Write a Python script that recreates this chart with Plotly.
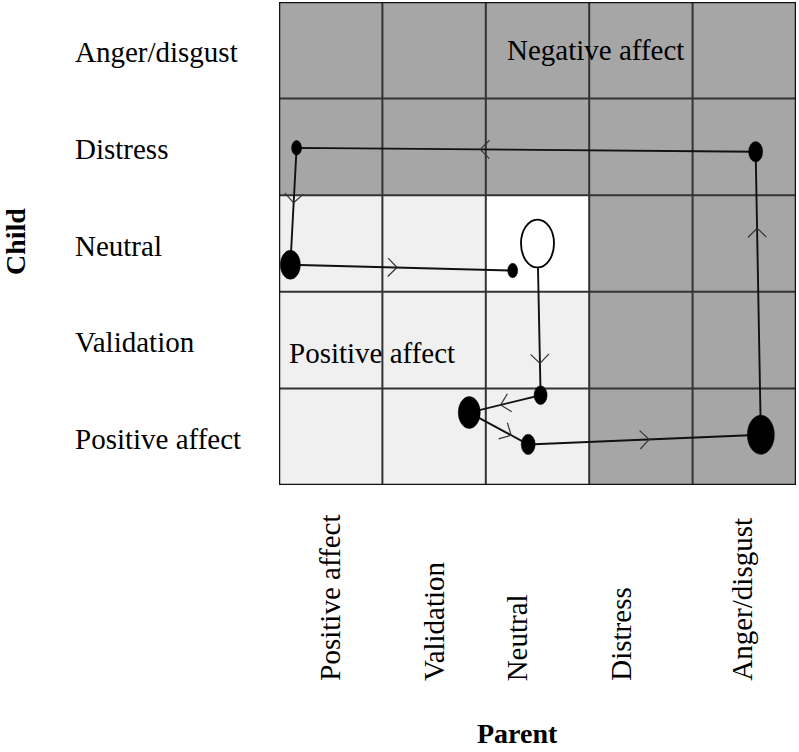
import numpy as np
import plotly.graph_objects as go

# ---- data ----
parent_states = ["Positive affect", "Validation", "Neutral", "Distress", "Anger/disgust"]
child_states = ["Positive affect", "Validation", "Neutral", "Distress", "Anger/disgust"]  # bottom -> top
valence = ["positive", "positive", "neutral", "negative", "negative"]

# trajectory in grid units (x = parent state, y = child state)
traj_parent = [2.50, 2.53, 1.84, 2.41, 4.66, 4.61, 0.17, 0.11, 2.26]
traj_child = [2.50, 0.93, 0.75, 0.42, 0.52, 3.45, 3.49, 2.28, 2.22]
traj_duration = [33, 13, 22, 14, 27, 14, 10, 20, 10]
arrow_frac = [0.79, 0.56, 0.71, 0.52, 0.73, 0.60, 0.47, 0.48]

region_labels = ["Negative affect", "Positive affect"]
region_x = [3.06, 0.90]
region_y = [4.50, 1.37]

# ---- layout constants ----
W, H = 799, 752
ML, MR, MT, MB = 279, 3, 2, 267
PW, PH = W - ML - MR, H - MT - MB
SX, SY = PW / 5.0, PH / 5.0
FONT = "Liberation Serif"
DARK, LIGHT, WHITE = "#a6a6a6", "#f0f0f0", "#ffffff"


def to_px(x, y):
    return ML + x * SX, MT + PH - y * SY


def to_data(px, py):
    return (px - ML) / SX, (MT + PH - py) / SY


shapes = []
# cells
for i, pv in enumerate(valence):
    for j, cv in enumerate(valence):
        if pv == "negative" or cv == "negative":
            col = DARK
        elif pv == "neutral" and cv == "neutral":
            col = WHITE
        else:
            col = LIGHT
        shapes.append(dict(type="rect", xref="x", yref="y", x0=i, x1=i + 1, y0=j, y1=j + 1,
                           fillcolor=col, line=dict(width=0), layer="below"))
# grid lines
for k in range(1, 5):
    shapes.append(dict(type="line", xref="x", yref="y", x0=k, x1=k, y0=0, y1=5,
                       line=dict(color="#333333", width=2), layer="below"))
    shapes.append(dict(type="line", xref="x", yref="y", x0=0, x1=5, y0=k, y1=k,
                       line=dict(color="#333333", width=2), layer="below"))
shapes.append(dict(type="rect", xref="x", yref="y", x0=0, x1=5, y0=0, y1=5,
                   line=dict(color="#111111", width=2.5), fillcolor="rgba(0,0,0,0)", layer="below"))

# ellipses (duration -> size)
for n, (x, y, d) in enumerate(zip(traj_parent, traj_child, traj_duration)):
    w = d / SX
    h = d * 1.45 / SY
    first = n == 0
    shapes.append(dict(type="circle", xref="x", yref="y",
                       x0=x - w / 2, x1=x + w / 2, y0=y - h / 2, y1=y + h / 2,
                       fillcolor="white" if first else "black",
                       line=dict(color="black", width=1.8 if first else 0.5), layer="above"))

fig = go.Figure()
fig.add_trace(go.Scatter(x=traj_parent, y=traj_child, mode="lines",
                         line=dict(color="#111111", width=1.9), hoverinfo="skip", showlegend=False))

# chevron arrowheads
cx, cy = [], []
L = 13.0
ang = np.deg2rad(45)
for k in range(len(traj_parent) - 1):
    p0 = np.array(to_px(traj_parent[k], traj_child[k]))
    p1 = np.array(to_px(traj_parent[k + 1], traj_child[k + 1]))
    d = (p1 - p0) / np.linalg.norm(p1 - p0)
    tip = p0 + arrow_frac[k] * (p1 - p0)
    for s in (1, -1):
        c, si = np.cos(s * ang), np.sin(s * ang)
        r = np.array([d[0] * c - d[1] * si, d[0] * si + d[1] * c])
        arm = tip - L * r
        a = to_data(*arm)
        t = to_data(*tip)
        cx += [a[0], t[0], None]
        cy += [a[1], t[1], None]
fig.add_trace(go.Scatter(x=cx, y=cy, mode="lines", line=dict(color="#333333", width=1.2),
                         hoverinfo="skip", showlegend=False))

annotations = []
# child (row) labels
for j, lab in enumerate(child_states):
    annotations.append(dict(text=lab, xref="paper", yref="y", x=(73 - ML) / PW, y=j + 0.5,
                            xanchor="left", yanchor="middle", showarrow=False, yshift=-2,
                            font=dict(family=FONT, size=29, color="black")))
# parent (column) labels
xoff = [-0.01, 0.0, -0.2, -0.2, -0.03]
for i, lab in enumerate(parent_states):
    annotations.append(dict(text=lab, xref="x", yref="paper", x=i + 0.5 + xoff[i],
                            y=-(683 - MT - PH) / PH, textangle=-90,
                            xanchor="center", yanchor="bottom", showarrow=False,
                            font=dict(family=FONT, size=29, color="black")))
# region labels
for lab, x, y in zip(region_labels, region_x, region_y):
    annotations.append(dict(text=lab, xref="x", yref="y", x=x, y=y, showarrow=False,
                            xanchor="center", yanchor="middle",
                            font=dict(family=FONT, size=29, color="black")))
# axis titles
annotations.append(dict(text="<b>Child</b>", xref="paper", yref="paper", x=(15 - ML) / PW,
                        y=(MT + PH - 242) / PH, textangle=-90, showarrow=False,
                        xanchor="center", yanchor="middle",
                        font=dict(family=FONT, size=28, color="black")))
annotations.append(dict(text="<b>Parent</b>", xref="paper", yref="paper", x=(517 - ML) / PW,
                        y=-(733 - MT - PH) / PH, showarrow=False,
                        xanchor="center", yanchor="middle",
                        font=dict(family=FONT, size=28, color="black")))

fig.update_layout(
    width=W, height=H, margin=dict(l=ML, r=MR, t=MT, b=MB),
    paper_bgcolor="white", plot_bgcolor="white",
    xaxis=dict(range=[0, 5], showgrid=False, zeroline=False, showticklabels=False,
               ticks="", fixedrange=True),
    yaxis=dict(range=[0, 5], showgrid=False, zeroline=False, showticklabels=False,
               ticks="", fixedrange=True),
    shapes=shapes, annotations=annotations, showlegend=False,
)
fig.write_html("out.html", config={"displayModeBar": False},
               post_script="document.body.style.margin='0';document.body.style.overflow='hidden';")
